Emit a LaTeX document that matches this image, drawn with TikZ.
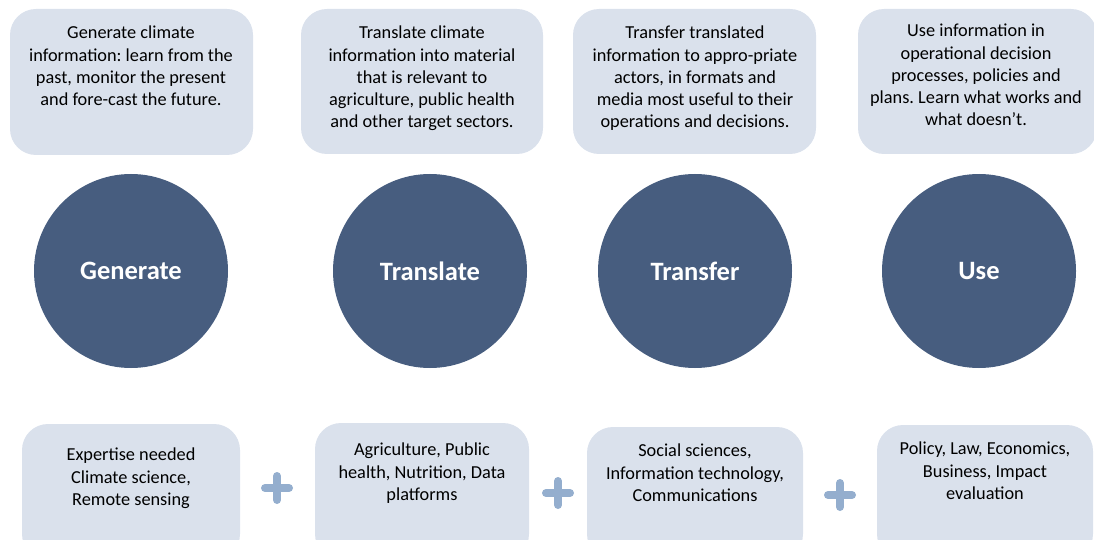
\documentclass[tikz,border=0pt]{standalone}
\usepackage{fontspec}
\setmainfont{Carlito}
\frenchspacing
\definecolor{boxfill}{HTML}{DAE1EC}
\definecolor{circfill}{HTML}{475D7F}
\definecolor{plusc}{HTML}{94AECE}
\begin{document}
\begin{tikzpicture}[x=1pt,y=-1pt,
  infobox/.style={draw=none,fill=boxfill,rounded corners=26pt},
  txt/.style={anchor=north,align=center,font=\fontsize{18.3}{22.2}\selectfont\frenchspacing,text=black,inner sep=0pt},
  stage/.style={circle,fill=circfill,minimum size=194pt,inner sep=0pt,text=white,font=\fontsize{26.5}{30}\selectfont\bfseries},
  plusbar/.style={line width=8pt,draw=plusc,line cap=round}]
\useasboundingbox (0,0) rectangle (1094,540);
\clip (0,0) rectangle (1094,540);
% top boxes
\fill[infobox] (10,9) rectangle (253,155);
\fill[infobox] (301,9) rectangle (543,154);
\fill[infobox] (573,9) rectangle (816,154);
\fill[infobox] (858,9) rectangle (1097,154);
\node[txt] (t1) at (131,26) {Generate climate\\information: learn from the\\past, monitor the present\\and fore-cast the future.};
\node[txt] (t2) at (422,26) {Translate climate\\information into material\\that is relevant to\\agriculture, public health\\and other target sectors.};
\node[txt] (t3) at (695,26) {Transfer translated\\information to appro-priate\\actors, in formats and\\media most useful to their\\operations and decisions.};
\node[txt] (t4) at (976,24) {Use information in\\operational decision\\processes, policies and\\plans. Learn what works and\\what doesn’t.};
% circles
\node[stage] (c1) at (131,271) {Generate};
\node[stage] (c2) at (430,271) {Translate};
\node[stage] (c3) at (695,271) {Transfer};
\node[stage] (c4) at (979,271) {Use};
% bottom boxes
\fill[infobox] (22,424) rectangle (240,560);
\fill[infobox] (315,423) rectangle (529,560);
\fill[infobox] (587,427) rectangle (803,560);
\fill[infobox] (877,425) rectangle (1093,560);
\node[txt] (b1) at (131,448) {Expertise needed\\Climate science,\\Remote sensing};
\node[txt] (b2) at (422,443) {Agriculture, Public\\health, Nutrition, Data\\platforms};
\node[txt] (b3) at (695,444) {Social sciences,\\Information technology,\\Communications};
\node[txt] (b4) at (985,442) {Policy, Law, Economics,\\Business, Impact\\evaluation};
% plus signs
\coordinate (p1) at (277,488);
\coordinate (p2) at (558,493);
\coordinate (p3) at (840,495);
\foreach \p in {p1,p2,p3}{
  \draw[plusbar] ([xshift=-12pt]\p) -- ([xshift=12pt]\p);
  \draw[plusbar] ([yshift=-12pt]\p) -- ([yshift=12pt]\p);
}
\end{tikzpicture}
\end{document}
